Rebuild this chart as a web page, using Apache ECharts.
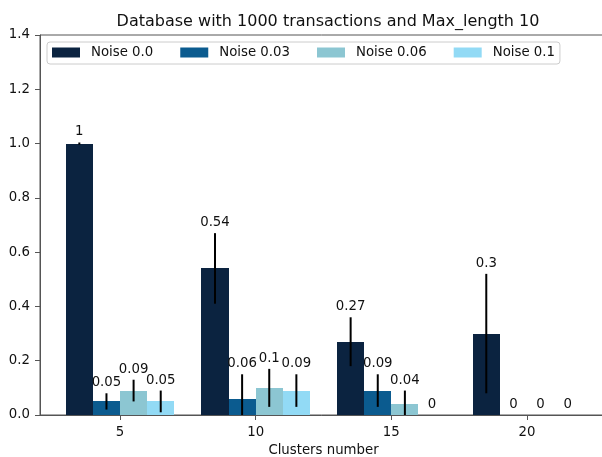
<!DOCTYPE html>
<html>
<head>
<meta charset="utf-8">
<script src="https://cdn.jsdelivr.net/npm/echarts@6/dist/echarts.min.js"></script>
<style>
  html, body { margin: 0; padding: 0; background: #fff; }
  #chart { width: 602px; height: 457px; }
</style>
</head>
<body>
<div id="chart"></div>
<script>
// Categories (number of clusters) and the four noise levels
const clusters = [5, 10, 15, 20];
const seriesNames = ['Noise 0.0', 'Noise 0.03', 'Noise 0.06', 'Noise 0.1'];

// Mean scores per noise level
const noise00 = [1, 0.54, 0.27, 0.3];
const noise03 = [0.05, 0.06, 0.09, 0];
const noise06 = [0.09, 0.1, 0.04, 0];
const noise10 = [0.05, 0.09, 0, 0];

// Standard deviations (error bar half-lengths)
const err00 = [0.004, 0.13, 0.09, 0.22];
const err03 = [0.03, 0.09, 0.06, 0];
const err06 = [0.04, 0.07, 0.05, 0];
const err10 = [0.04, 0.06, 0, 0];

// Y tick labels
const yTicks = ['0.0', '0.2', '0.4', '0.6', '0.8', '1.0', '1.2', '1.4'];

const values = [noise00, noise03, noise06, noise10];
const errors = [err00, err03, err06, err10];
const colors = ['#0b2340', '#0b5b8f', '#8cc6d2', '#92daf5'];
const offsets = [-1.5, -0.5, 0.5, 1.5];
const FONT = 'DejaVu Sans';

function makeSeries(i) {
  const data = clusters.map((c, k) => [c, values[i][k], errors[i][k]]);
  return {
    name: seriesNames[i],
    type: 'custom',
    clip: true,
    itemStyle: { color: colors[i], borderWidth: 0 },
    data: data,
    renderItem: function (params, api) {
      const x = api.value(0) + offsets[i];
      const v = api.value(1);
      const e = api.value(2);
      const p0 = api.coord([x - 0.5, v]);
      const p1 = api.coord([x + 0.5, 0]);
      const top = api.coord([x, v + e]);
      const bot = api.coord([x, v - e]);
      // snap bar edges to whole pixels so neighbouring bars meet without seams
      const xl = Math.round(p0[0]), xr = Math.round(p1[0]);
      const yt = Math.round(p0[1]), yb = Math.round(p1[1]);
      return {
        type: 'group',
        children: [
          {
            type: 'rect',
            shape: { x: xl, y: yt, width: xr - xl, height: yb - yt },
            style: { fill: colors[i], stroke: null, lineWidth: 0 }
          },
          {
            type: 'line',
            shape: { x1: top[0], y1: top[1], x2: bot[0], y2: bot[1] },
            style: { stroke: '#000', lineWidth: 2 }
          },
          {
            type: 'text',
            style: {
              x: top[0], y: top[1] - 4,
              text: String(v),
              fill: '#111',
              font: '13.3px "' + FONT + '"',
              align: 'center',
              verticalAlign: 'bottom'
            }
          }
        ]
      };
    }
  };
}

const chart = echarts.init(document.getElementById('chart'), null, { renderer: 'canvas' });
chart.setOption({
  animation: false,
  backgroundColor: '#fff',
  textStyle: { fontFamily: FONT },
  title: {
    text: 'Database with 1000 transactions and Max_length 10',
    left: 323,
    textAlign: 'center',
    top: 9,
    textStyle: { fontFamily: FONT, fontSize: 16, fontWeight: 'normal', color: '#111' }
  },
  legend: {
    data: seriesNames,
    left: 47,
    top: 42,
    icon: 'rect',
    itemWidth: 28,
    itemHeight: 10,
    itemGap: 27,
    padding: [4, 5, 5, 5],
    backgroundColor: 'rgba(255,255,255,0.8)',
    borderColor: '#cccccc',
    borderWidth: 1,
    borderRadius: 3,
    textStyle: { fontFamily: FONT, fontSize: 13.3, color: '#111', padding: [0, 0, 0, 6] }
  },
  grid: {
    left: 40, right: -5, top: 35, bottom: 42,
    outerBoundsMode: 'none',
    containLabel: false,
    show: true, borderColor: '#555', borderWidth: 1, backgroundColor: 'transparent'
  },
  xAxis: {
    type: 'value',
    min: 2.05,
    max: 22.95,
    name: 'Clusters number',
    nameLocation: 'middle',
    nameGap: 29,
    nameTextStyle: { fontFamily: FONT, fontSize: 13.3, color: '#111' },
    splitLine: { show: false },
    axisLine: { show: true, onZero: false, lineStyle: { color: '#555', width: 1 } },
    axisTick: { show: true, length: 5, customValues: clusters, lineStyle: { color: '#555' } },
    axisLabel: { customValues: clusters, margin: 11, fontFamily: FONT, fontSize: 13.3, color: '#111' }
  },
  yAxis: {
    type: 'value',
    min: 0,
    max: 1.4,
    interval: 0.2,
    splitLine: { show: false },
    axisLine: { show: true, lineStyle: { color: '#555', width: 1 } },
    axisTick: { show: true, length: 5, lineStyle: { color: '#555' } },
    axisLabel: {
      margin: 10, fontFamily: FONT, fontSize: 13.3, color: '#111',
      formatter: function (val) { return yTicks[Math.round(val / 0.2)]; }
    }
  },
  series: [0, 1, 2, 3].map(makeSeries)
});
</script>
</body>
</html>
